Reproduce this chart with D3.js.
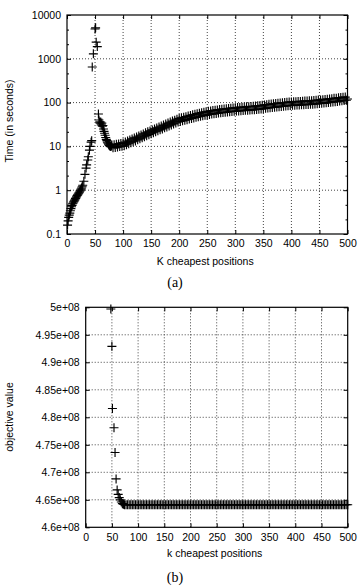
<!DOCTYPE html>
<html>
<head>
<meta charset="utf-8">
<script src="https://cdn.jsdelivr.net/npm/d3@7"></script>
<style>
body { margin: 0; background: #fff; }
svg text { font-family: "Liberation Sans", Arial, sans-serif; fill: #000; }
</style>
</head>
<body>
<div id="container"><svg></svg></div>
<script>
let width = 358;
let height = 588;

// (a) running time, log scale
let timeEarlyK = [1,2,3,4,5,6,7,8,9,10,11,12,13,14,15,16,17,18,19,20,21,22,23,24,25,26,27,28,30,32,34,35,37,38,40,41,43,44,
    45,47,50,51,52,54,56,57,58,59,60,61,62,63,64,65,66,67,68,69,70,71,72,73,74,75,76,77,78,79];
let timeEarlySec = [0.16,0.2,0.24,0.27,0.3,0.34,0.38,0.42,0.45,0.49,0.51,0.54,0.57,0.6,0.64,0.67,0.71,0.75,0.78,0.82,0.86,0.9,0.95,1.0,1.06,1.12,1.2,1.3,1.6,2.3,3.2,3.8,4.9,5.8,8.2,10,12.5,13.5,
    650,1300,4800,5100,2400,1900,55,40,36,34,36,31,34,29,30,25,22,20,18,16,14.5,13.5,12.5,11.8,11.2,10.6,10.4,10.1,9.9,10.2];
let timeBandStart = 80, timeBandStep = 2;
let timeBandSec = [
    10.8, 9.3, 10.9, 9.5, 11.2, 9.7, 11.4, 9.9, 11.7, 10.1,
    12.0, 10.3, 12.6, 10.9, 13.3, 11.5, 14.0, 12.1, 14.8, 12.8,
    15.6, 13.3, 16.4, 14.1, 17.3, 14.9, 18.2, 15.7, 19.3, 16.6,
    20.4, 17.6, 21.5, 18.5, 22.6, 19.4, 23.8, 20.5, 25.1, 21.6,
    26.4, 22.7, 27.8, 23.9, 29.2, 25.1, 30.7, 26.5, 32.4, 27.9,
    34.1, 29.4, 35.9, 30.9, 37.8, 32.6, 39.8, 34.2, 41.9, 36.0,
    43.5, 37.1, 44.9, 38.3, 46.3, 39.5, 47.8, 40.7, 49.4, 42.0,
    51.0, 43.3, 52.6, 44.7, 54.3, 46.1, 55.8, 47.5, 57.4, 48.8,
    59.0, 50.0, 60.4, 51.2, 61.9, 52.4, 63.3, 53.5, 64.6, 54.6,
    65.7, 55.6, 66.9, 56.6, 68.0, 57.6, 69.2, 58.5, 70.5, 59.4,
    71.4, 60.3, 72.4, 61.1, 73.3, 61.9, 74.3, 62.7, 75.2, 63.3,
    76.0, 64.0, 76.8, 64.6, 77.6, 65.2, 78.3, 65.9, 79.1, 66.5,
    80.1, 67.2, 80.9, 67.8, 81.6, 68.4, 82.4, 69.0, 83.3, 69.7,
    84.2, 70.5, 85.6, 71.6, 87.0, 72.8, 88.4, 74.0, 89.9, 75.1,
    91.1, 76.2, 92.6, 77.3, 94.0, 78.4, 95.4, 79.6, 96.7, 80.6,
    97.9, 81.7, 99.2, 82.6, 100.4, 83.7, 101.6, 84.8, 102.7, 85.9,
    103.5, 86.5, 104.2, 87.1, 104.9, 87.6, 105.7, 88.2, 106.6, 88.9,
    107.4, 89.6, 108.1, 90.2, 108.8, 90.8, 109.6, 91.4, 110.4, 92.0,
    111.3, 92.8, 112.6, 94.0, 113.9, 95.2, 115.3, 96.4, 116.7, 97.6,
    118.1, 98.8, 119.8, 100.4, 121.5, 102.0, 123.2, 103.5, 124.9, 105.1,
    126.4, 106.5, 128.3, 108.2, 130.1, 109.9, 131.8, 111.4, 133.6, 113.0,
    121];
let timeTicks = [0.1, 1, 10, 100, 1000, 10000];

// (b) objective value, in units of 1e8
let objEarlyK = [48,50,51,54,56,58,60,62,64,66,68,70,72];
let objEarlyVal = [4.997,4.929,4.816,4.781,4.736,4.688,4.668,4.660,4.654,4.650,4.646,4.643,4.642];
let objBandStart = 74, objBandStep = 3;
let objBandVal = [
    4.6412, 4.6409, 4.6411, 4.6408, 4.6410, 4.6412, 4.6409, 4.6410, 4.6411, 4.6408,
    4.6410, 4.6409, 4.6412, 4.6410, 4.6408, 4.6411, 4.6410, 4.6409, 4.6412, 4.6410,
    4.6409, 4.6411, 4.6410, 4.6408, 4.6410, 4.6412, 4.6409, 4.6411, 4.6410, 4.6409,
    4.6411, 4.6410, 4.6408, 4.6412, 4.6410, 4.6409, 4.6411, 4.6410, 4.6409, 4.6412,
    4.6410, 4.6408, 4.6411, 4.6410, 4.6409, 4.6412, 4.6410, 4.6411, 4.6408, 4.6410,
    4.6409, 4.6411, 4.6410, 4.6412, 4.6409, 4.6410, 4.6411, 4.6408, 4.6410, 4.6409,
    4.6412, 4.6410, 4.6411, 4.6409, 4.6410, 4.6408, 4.6411, 4.6410, 4.6412, 4.6409,
    4.6410, 4.6411, 4.6409, 4.6410, 4.6412, 4.6408, 4.6410, 4.6411, 4.6409, 4.6410,
    4.6411, 4.6409, 4.6410, 4.6412, 4.6410, 4.6409, 4.6411, 4.6408, 4.6410, 4.6412,
    4.6409, 4.6410, 4.6411, 4.6409, 4.6412, 4.6410, 4.6408, 4.6411, 4.6410, 4.6409,
    4.6410, 4.6412, 4.6409, 4.6411, 4.6410, 4.6408, 4.6410, 4.6411, 4.6409, 4.6412,
    4.6411, 4.6409, 4.6410, 4.6408, 4.6412, 4.6410, 4.6409, 4.6411, 4.6410, 4.6409,
    4.6410, 4.6411, 4.6412, 4.6409, 4.6410, 4.6408, 4.6411, 4.6410, 4.6409, 4.6411,
    4.6409, 4.6410, 4.6412, 4.6410, 4.6411, 4.6409, 4.6410, 4.6408, 4.6411, 4.6410,
    4.6409, 4.6411, 4.6410];
let objTicks = [4.6, 4.65, 4.7, 4.75, 4.8, 4.85, 4.9, 4.95, 5.0];

let kTicks = [0,50,100,150,200,250,300,350,400,450,500];

function toPoints(ks, vals) {
    return ks.map((k, i) => ({k: k, v: vals[i]}));
}

let svg = d3.select('#container').select('svg')
    .attr('width', width)
    .attr('height', height);
svg.append('rect').attr('width', width).attr('height', height).attr('fill', '#fff');

function panel(opt) {
    let x = opt.x, y = opt.y;
    let [x0, x1] = x.range();
    let [y0, y1] = y.range();
    let g = svg.append('g');

    // dotted grid
    g.append('g').selectAll('line').data(kTicks.slice(1, -1)).join('line')
        .attr('x1', d => x(d)).attr('x2', d => x(d))
        .attr('y1', y0).attr('y2', y1)
        .attr('stroke', '#444').attr('stroke-width', 1).attr('stroke-dasharray', '1,2');
    g.append('g').selectAll('line').data(opt.yTicks.slice(1, -1)).join('line')
        .attr('x1', x0).attr('x2', x1)
        .attr('y1', d => y(d)).attr('y2', d => y(d))
        .attr('stroke', '#444').attr('stroke-width', 1).attr('stroke-dasharray', '1,2');

    // axes, ticks pointing in, mirrored
    let fs = '10.5px';
    let ax = g.append('g').attr('transform', `translate(0,${y0})`)
        .call(d3.axisBottom(x).tickValues(kTicks).tickSize(-4).tickPadding(6));
    g.append('g').attr('transform', `translate(0,${y1})`)
        .call(d3.axisTop(x).tickValues(kTicks).tickSize(-4).tickFormat(''));
    g.append('g').attr('transform', `translate(${x0},0)`)
        .call(d3.axisLeft(y).tickValues(opt.yTicks).tickSize(-4).tickPadding(6).tickFormat(opt.yFormat));
    g.append('g').attr('transform', `translate(${x1},0)`)
        .call(d3.axisRight(y).tickValues(opt.yTicks).tickSize(-4).tickFormat(''));
    if (opt.minor) {
        g.append('g').attr('transform', `translate(${x0},0)`)
            .call(d3.axisLeft(y).tickValues(opt.minor).tickSize(-2).tickFormat(''));
        g.append('g').attr('transform', `translate(${x1},0)`)
            .call(d3.axisRight(y).tickValues(opt.minor).tickSize(-2).tickFormat(''));
    }
    g.selectAll('.domain').remove();
    g.selectAll('.tick line').attr('stroke', '#000');
    g.selectAll('.tick text').style('font-size', fs).attr('fill', '#000');
    ax.selectAll('.tick text').attr('dy', '0.71em');

    // border
    g.append('rect').attr('x', x0).attr('y', y1)
        .attr('width', x1 - x0).attr('height', y0 - y1)
        .attr('fill', 'none').attr('stroke', '#000').attr('stroke-width', 1.2);

    // crosses
    g.append('g').selectAll('path').data(opt.points).join('path')
        .attr('d', d => `M${x(d.k) - 4.5},${y(d.v)}h9M${x(d.k)},${y(d.v) - 4.5}v9`)
        .attr('stroke', '#000').attr('stroke-width', 1.15).attr('fill', 'none');

    // labels
    g.append('text').attr('x', (x0 + x1) / 2 - 2).attr('y', opt.xLabelY)
        .attr('text-anchor', 'middle').style('font-size', fs).text(opt.xLabel);
    g.append('text').attr('transform', `translate(12.5,${opt.yLabelMid}) rotate(-90)`)
        .attr('text-anchor', 'middle').style('font-size', fs).text(opt.yLabel);
    g.append('text').attr('x', 175).attr('y', opt.capY)
        .attr('text-anchor', 'middle')
        .style('font-family', '"Liberation Serif", "Times New Roman", serif')
        .style('font-size', '14px').text(opt.caption);
}

// (a)
let timePoints = toPoints(timeEarlyK, timeEarlySec)
    .concat(toPoints(d3.range(timeBandStart, 501, timeBandStep), timeBandSec));
let minorTime = [];
for (let e = -1; e < 4; e++) {
    minorTime.push(Math.pow(10, e + 1 / 3), Math.pow(10, e + 2 / 3));
}
panel({
    x: d3.scaleLinear([0, 500], [67, 347.5]),
    y: d3.scaleLog([0.1, 10000], [234, 15]),
    yTicks: timeTicks,
    minor: minorTime,
    yFormat: d => String(d),
    points: timePoints,
    xLabel: 'K cheapest positions',
    xLabelY: 264.5,
    yLabel: 'Time (in seconds)',
    yLabelMid: 121,
    caption: '(a)',
    capY: 287
});

// (b)
let objPoints = toPoints(objEarlyK, objEarlyVal)
    .concat(toPoints(d3.range(objBandStart, 501, objBandStep), objBandVal));
panel({
    x: d3.scaleLinear([0, 500], [85.7, 347.7]),
    y: d3.scaleLinear([4.6, 5.0], [527.3, 307.3]),
    yTicks: objTicks,
    minor: null,
    yFormat: d => String(+d.toFixed(2)) + 'e+08',
    points: objPoints,
    xLabel: 'k cheapest positions',
    xLabelY: 556.5,
    yLabel: 'objective value',
    yLabelMid: 417,
    caption: '(b)',
    capY: 582
});
</script>
</body>
</html>
